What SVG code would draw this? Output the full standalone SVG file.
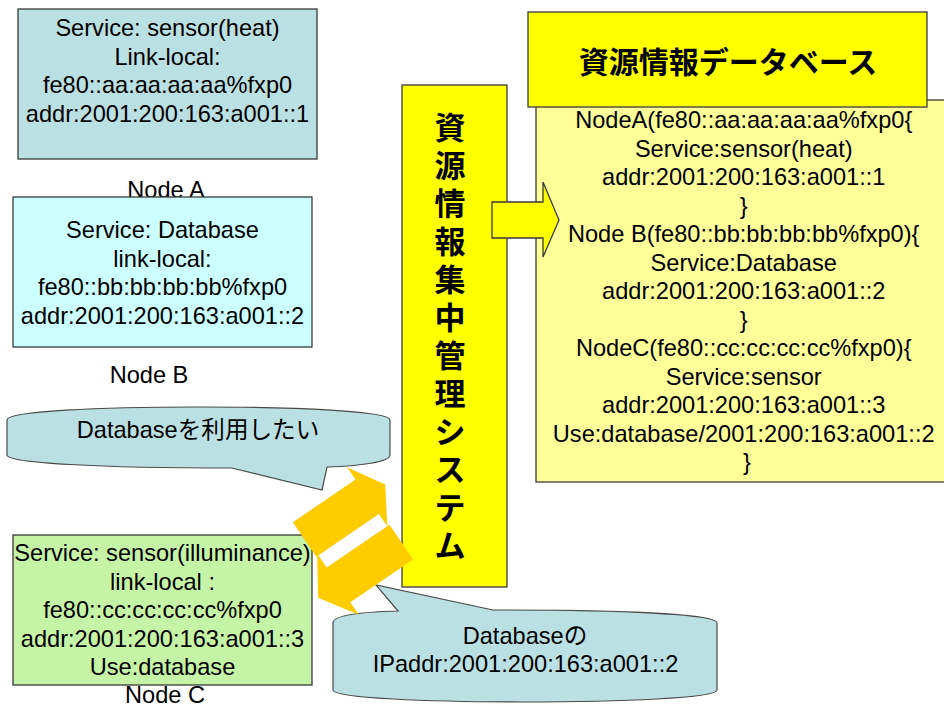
<svg xmlns="http://www.w3.org/2000/svg" width="944" height="708" viewBox="0 0 944 708">
  <style>
    .box { stroke: #3a3a3a; stroke-width: 1.3; }
    .t { font-family: "Liberation Sans", "Noto Sans CJK JP", sans-serif; font-size: 23.6px; fill: #000; text-anchor: middle; }
    .jp { font-family: "Noto Sans CJK JP", sans-serif; font-weight: bold; fill: #000; text-anchor: middle; }
    .vchar { font-family: "Noto Sans CJK JP", sans-serif; font-weight: bold; font-size: 31px; fill: #000; text-anchor: middle; }
    .callout { fill: #BBE0E3; stroke: #4a4a4a; stroke-width: 1.2; }
    .yellow { fill: #FFFF00; }
    .orange { fill: #FFCC00; }
  </style>
  <rect width="944" height="708" fill="#FFFFFF"/>

  <!-- Node A -->
  <g id="nodeA">
    <rect class="box" x="18" y="9" width="299" height="150" fill="#BBE0E3"/>
    <text class="t" x="167.5" y="36">Service: sensor(heat)</text>
    <text class="t" x="167.5" y="64.5">Link-local:</text>
    <text class="t" x="167.5" y="93">fe80::aa:aa:aa:aa%fxp0</text>
    <text class="t" x="167.5" y="121.5">addr:2001:200:163:a001::1</text>
    <text class="t" x="166" y="198">Node A</text>
  </g>

  <!-- Node B -->
  <g id="nodeB">
    <rect class="box" x="13" y="197" width="299" height="150" fill="#CCFFFF"/>
    <text class="t" x="162.5" y="238">Service: Database</text>
    <text class="t" x="162.5" y="266.5">link-local:</text>
    <text class="t" x="162.5" y="295">fe80::bb:bb:bb:bb%fxp0</text>
    <text class="t" x="162.5" y="323.5">addr:2001:200:163:a001::2</text>
    <text class="t" x="149" y="383">Node B</text>
  </g>

  <!-- Node C -->
  <g id="nodeC">
    <rect class="box" x="13" y="535" width="299" height="150" fill="#C6F4A6"/>
    <text class="t" x="162.5" y="561">Service: sensor(illuminance)</text>
    <text class="t" x="162.5" y="589.5">link-local :</text>
    <text class="t" x="162.5" y="618">fe80::cc:cc:cc:cc%fxp0</text>
    <text class="t" x="162.5" y="646.5">addr:2001:200:163:a001::3</text>
    <text class="t" x="162.5" y="675">Use:database</text>
    <text class="t" x="165" y="703">Node C</text>
  </g>

  <!-- Request balloon from node C -->
  <g id="requestCallout">
    <path class="callout" d="M7,420 C7,411 100,407 198,407 C296,407 390,411 390,420 L390,455 C390,462 360,466 327,467 L322,490 L232,468 C100,468 7,463 7,455 Z"/>
    <text class="t" x="198" y="438">Databaseを利用したい</text>
  </g>

  <!-- Reply balloon with the database address -->
  <g id="replyCallout">
    <path class="callout" d="M333,623 C333,615 360,612 398,611 L376,585 L493,610 C620,610 717,614 717,623 L717,690 C717,698 620,702 525,702 C430,702 333,698 333,690 Z"/>
    <text class="t" x="525" y="644">Databaseの</text>
    <text class="t" x="525.5" y="672">IPaddr:2001:200:163:a001::2</text>
  </g>

  <!-- Resource information database -->
  <g id="database">
    <rect class="box" x="536" y="100" width="440" height="382" fill="#FFFF99"/>
    <text class="t" x="747">
      <tspan x="747" y="128">NodeA(fe80::aa:aa:aa:aa%fxp0{</tspan>
      <tspan x="747" y="156.5">Service:sensor(heat)</tspan>
      <tspan x="747" y="185">addr:2001:200:163:a001::1</tspan>
      <tspan x="747" y="213.5">}</tspan>
      <tspan x="747" y="242">Node B(fe80::bb:bb:bb:bb%fxp0){</tspan>
      <tspan x="747" y="270.5">Service:Database</tspan>
      <tspan x="747" y="299">addr:2001:200:163:a001::2</tspan>
      <tspan x="747" y="327.5">}</tspan>
      <tspan x="747" y="356">NodeC(fe80::cc:cc:cc:cc%fxp0){</tspan>
      <tspan x="747" y="384.5">Service:sensor</tspan>
      <tspan x="747" y="413">addr:2001:200:163:a001::3</tspan>
      <tspan x="747" y="441.5">Use:database/2001:200:163:a001::2</tspan>
      <tspan x="747" y="470">}</tspan>
    </text>
  </g>

  <!-- Database title -->
  <g id="databaseTitle">
    <rect class="box yellow" x="528" y="12" width="399" height="95"/>
    <text class="jp" x="728" y="73" font-size="30">資源情報データベース</text>
  </g>

  <!-- Central management system, title set one character per row -->
  <g id="managementSystem">
    <rect class="box yellow" x="402" y="85" width="105" height="502"/>
    <text class="vchar" x="450" y="139">資</text>
    <text class="vchar" x="450" y="177">源</text>
    <text class="vchar" x="450" y="215">情</text>
    <text class="vchar" x="450" y="253">報</text>
    <text class="vchar" x="450" y="291">集</text>
    <text class="vchar" x="450" y="329">中</text>
    <text class="vchar" x="450" y="367">管</text>
    <text class="vchar" x="450" y="405">理</text>
    <text class="vchar" x="450" y="443">シ</text>
    <text class="vchar" x="450" y="481">ス</text>
    <text class="vchar" x="450" y="519">テ</text>
    <text class="vchar" x="450" y="557">ム</text>
  </g>

  <!-- Block arrows -->
  <g id="connectors">
    <polygon class="box yellow" points="492,202 543,202 543,182 559,220 543,257 543,238 492,238"/>
    <g transform="rotate(-34.3)">
      <polygon class="orange" points="-52.4,596.5 23.4,596.5 23.4,581.5 45.3,617.3 23.4,653 23.4,638.1 -52.4,638.1"/>
      <polygon class="orange" points="26,653 -50,653 -50,636 -74,673 -50,710 -50,695 26,695"/>
    </g>
  </g>
</svg>
